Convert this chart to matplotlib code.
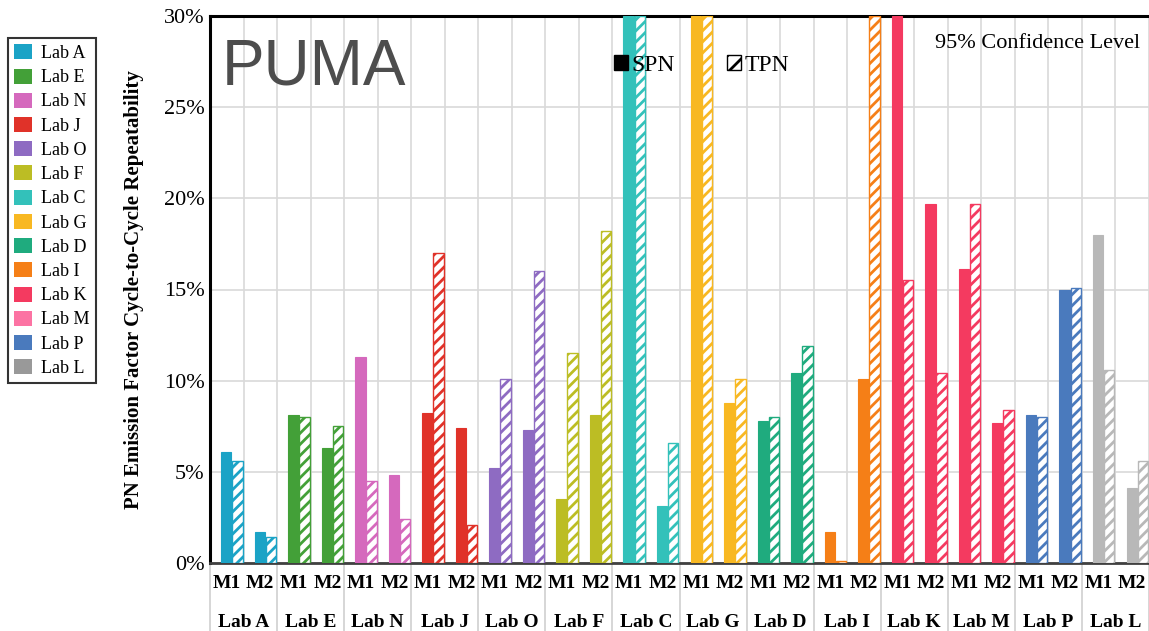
import matplotlib
matplotlib.use("Agg")
from matplotlib import pyplot as plt
from matplotlib.patches import Patch

LABS = ['Lab A', 'Lab E', 'Lab N', 'Lab J', 'Lab O', 'Lab F', 'Lab C',
        'Lab G', 'Lab D', 'Lab I', 'Lab K', 'Lab M', 'Lab P', 'Lab L']
MODES = ['M1', 'M2']
# values in %, ordered Lab A M1, Lab A M2, Lab E M1, ...  (30 = clipped at axis top)
SPN = [6.1, 1.7, 8.1, 6.3, 11.3, 4.8, 8.2, 7.4, 5.2, 7.3, 3.5, 8.1, 30, 3.1,
       30, 8.8, 7.8, 10.4, 1.7, 10.1, 30, 19.7, 16.1, 7.7, 8.1, 15.0, 18.0, 4.1]
TPN = [5.6, 1.4, 8.0, 7.5, 4.5, 2.4, 17.0, 2.1, 10.1, 16.0, 11.5, 18.2, 30, 6.6,
       30, 10.1, 8.0, 11.9, 0.1, 30, 15.5, 10.4, 19.7, 8.4, 8.0, 15.1, 10.6, 5.6]
LEGEND_COLORS = ['#1ba3c6', '#43a038', '#d569bd', '#e03229', '#8e6bc2', '#bcbd24', '#33c1ba',
                 '#f8b822', '#1fab7e', '#f57f17', '#f43a60', '#fc73a3', '#4a7abd', '#999999']
BAR_COLORS = ['#1ba3c6', '#43a038', '#d569bd', '#e03229', '#8e6bc2', '#bcbd24', '#33c1ba',
              '#f8b822', '#1fab7e', '#f57f17', '#f43a60', '#f43a60', '#4a7abd', '#b8b8b8']
YTICKS = [0, 5, 10, 15, 20, 25, 30]

plt.rcParams['font.family'] = ['Liberation Serif', 'DejaVu Serif']
plt.rcParams['hatch.linewidth'] = 2.0

fig = plt.figure(figsize=(11.49, 6.31), dpi=100)
ax = fig.add_axes([210 / 1149, 1 - 563 / 631, 939 / 1149, 547 / 631])

n = len(LABS) * len(MODES)
for i in range(n):
    c = BAR_COLORS[i // 2]
    ax.bar(i + 0.33, SPN[i], width=0.31, align='edge', color=c, edgecolor=c,
           linewidth=0.8, zorder=3)
    ax.bar(i + 0.66, TPN[i], width=0.31, align='edge', color='white', edgecolor=c,
           hatch='///', linewidth=1.0, zorder=3)

ax.set_xlim(0, n)
ax.set_ylim(0, 30)
ax.set_yticks(YTICKS)
ax.set_yticklabels([f'{t}%' for t in YTICKS], fontsize=16)
ax.set_xticks(range(n + 1))
ax.set_xticklabels([])
ax.tick_params(axis='both', length=0, pad=4)
ax.grid(True, color='#d9d9d9', linewidth=1.2, zorder=0)
ax.set_axisbelow(True)

for s in ['left', 'top']:
    ax.spines[s].set_linewidth(2.2)
    ax.spines[s].set_color('black')
ax.spines['bottom'].set_color('#404040')
ax.spines['bottom'].set_linewidth(2)
ax.spines['right'].set_visible(False)

ax.set_ylabel('PN Emission Factor Cycle-to-Cycle Repeatability', fontsize=15,
              fontweight='bold', labelpad=14)

# category labels under the axis
trans = ax.get_xaxis_transform()
for i in range(n):
    ax.text(i + 0.5, -0.038, MODES[i % 2], transform=trans, ha='center', va='center',
            fontsize=14, fontweight='bold')
for j, lab in enumerate(LABS):
    ax.text(2 * j + 1, -0.108, lab, transform=trans, ha='center', va='center',
            fontsize=14, fontweight='bold')
for j in range(len(LABS) + 1):
    ax.plot([2 * j, 2 * j], [0, -0.13], transform=trans, color='#d0d0d0',
            linewidth=1.2, clip_on=False, zorder=1)

ax.text(0.012, 0.96, 'PUMA', transform=ax.transAxes, ha='left', va='top',
        fontsize=46, color='#4d4d4d', family='Liberation Sans')
ax.text(0.991, 0.968, '95% Confidence Level', transform=ax.transAxes, ha='right',
        va='top', fontsize=16)

handles = [Patch(facecolor='black', edgecolor='black', label='SPN'),
           Patch(facecolor='white', edgecolor='black', hatch='//', label='TPN')]
ax.legend(handles=handles, loc='center left', bbox_to_anchor=(0.42, 0.91),
          ncol=2, frameon=False, fontsize=17, handlelength=0.6, handleheight=0.6,
          handletextpad=0.15, columnspacing=2.2, borderaxespad=0)

lab_handles = [Patch(facecolor=c, edgecolor='none', label=l)
               for c, l in zip(LEGEND_COLORS, LABS)]
leg = fig.legend(handles=lab_handles, loc='upper left', bbox_to_anchor=(8 / 1149, 1 - 38 / 631),
                 fontsize=13, frameon=True, fancybox=False, edgecolor='black',
                 handlelength=1.0, handleheight=0.9, handletextpad=0.5,
                 labelspacing=0.36, borderpad=0.35, borderaxespad=0)
leg.get_frame().set_linewidth(1.5)

fig.savefig('out.png', dpi=100)
